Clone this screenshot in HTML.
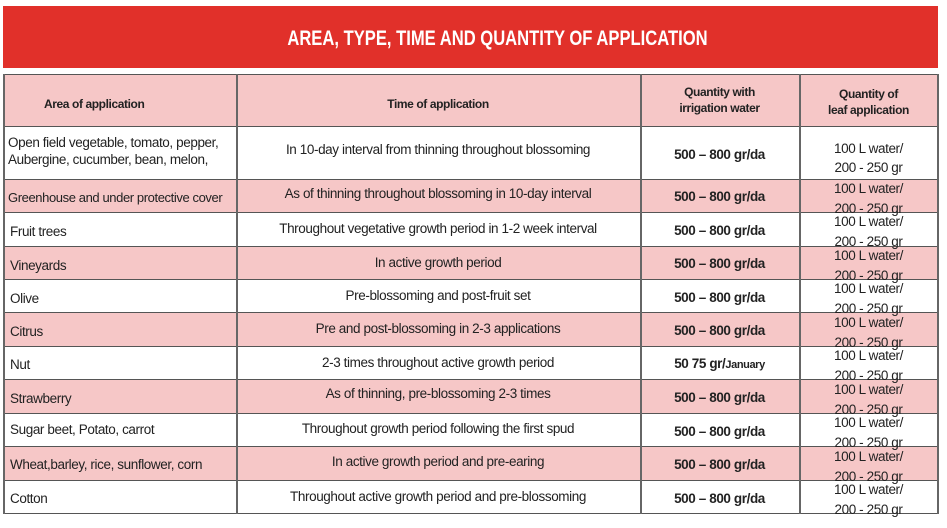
<!DOCTYPE html>
<html><head><meta charset="utf-8"><style>
*{margin:0;padding:0;box-sizing:border-box}
body{width:947px;height:528px;background:#fff;position:relative;overflow:hidden;font-family:"Liberation Sans",sans-serif;color:#222}
.banner{position:absolute;left:3px;top:6px;width:935px;height:62px;background:#e1302a}
.title{position:absolute;left:30px;top:27px;width:935px;text-align:center;color:#fff;font-weight:bold;font-size:21px;transform:scaleX(0.79);transform-origin:center;white-space:nowrap}
.row{position:absolute;left:3px;width:935px;border-bottom:1.5px solid #555}
.p{background:#f6c7c7}
.vl{position:absolute;top:74px;height:440px;width:1.5px;background:#666}
.t{position:absolute;white-space:nowrap;font-size:13.5px;letter-spacing:-0.4px}
.c{text-align:center}
.b{font-weight:bold}
</style></head><body>
<div class="banner"></div>
<div class="title">AREA, TYPE, TIME AND QUANTITY OF APPLICATION</div>
<div class="row p" style="top:74px;height:53px;border-top:1.5px solid #555"></div>
<div class="row" style="top:127px;height:53px"></div>
<div class="row p" style="top:180px;height:33px"></div>
<div class="row" style="top:213px;height:34px"></div>
<div class="row p" style="top:247px;height:33px"></div>
<div class="row" style="top:280px;height:33px"></div>
<div class="row p" style="top:313px;height:34px"></div>
<div class="row" style="top:347px;height:33px"></div>
<div class="row p" style="top:380px;height:34px"></div>
<div class="row" style="top:414px;height:33px"></div>
<div class="row p" style="top:447px;height:34px"></div>
<div class="row" style="top:481px;height:33px"></div>
<div class="vl" style="left:3px"></div>
<div class="vl" style="left:236px"></div>
<div class="vl" style="left:640px"></div>
<div class="vl" style="left:799px"></div>
<div class="vl" style="left:937px"></div>

<div class="t b" style="left:44px;top:97px;font-size:12px">Area of application</div>
<div class="t b c" style="left:236px;width:404px;top:97px;font-size:12px">Time of application</div>
<div class="t b c" style="left:640px;width:159px;top:84px;font-size:12px;line-height:16px">Quantity with<br>irrigation water</div>
<div class="t b c" style="left:799px;width:139px;top:86px;font-size:12px;line-height:16px">Quantity of<br>leaf application</div>

<div class="t" style="left:8px;top:134px;line-height:17px">Open field vegetable, tomato, pepper,<br>Aubergine, cucumber, bean, melon,</div>
<div class="t" style="left:8px;top:190px;font-size:13px">Greenhouse and under protective cover</div>
<div class="t" style="left:10px;top:224px">Fruit trees</div>
<div class="t" style="left:10px;top:258px">Vineyards</div>
<div class="t" style="left:10px;top:291px">Olive</div>
<div class="t" style="left:10px;top:324px">Citrus</div>
<div class="t" style="left:10px;top:357px">Nut</div>
<div class="t" style="left:10px;top:391px">Strawberry</div>
<div class="t" style="left:10px;top:422px">Sugar beet, Potato, carrot</div>
<div class="t" style="left:10px;top:457px">Wheat,barley, rice, sunflower, corn</div>
<div class="t" style="left:10px;top:491px">Cotton</div>

<div class="t c" style="left:236px;width:404px;top:142px">In 10-day interval from thinning throughout blossoming</div>
<div class="t c" style="left:236px;width:404px;top:186px">As of thinning throughout blossoming in 10-day interval</div>
<div class="t c" style="left:236px;width:404px;top:221px">Throughout vegetative growth period in 1-2 week interval</div>
<div class="t c" style="left:236px;width:404px;top:255px">In active growth period</div>
<div class="t c" style="left:236px;width:404px;top:288px">Pre-blossoming and post-fruit set</div>
<div class="t c" style="left:236px;width:404px;top:321px">Pre and post-blossoming in 2-3 applications</div>
<div class="t c" style="left:236px;width:404px;top:355px">2-3 times throughout active growth period</div>
<div class="t c" style="left:236px;width:404px;top:386px">As of thinning, pre-blossoming 2-3 times</div>
<div class="t c" style="left:236px;width:404px;top:421px">Throughout growth period following the first spud</div>
<div class="t c" style="left:236px;width:404px;top:454px">In active growth period and pre-earing</div>
<div class="t c" style="left:236px;width:404px;top:489px">Throughout active growth period and pre-blossoming</div>

<div class="t b c" style="left:640px;width:159px;top:147px">500 – 800 gr/da</div>
<div class="t b c" style="left:640px;width:159px;top:189px">500 – 800 gr/da</div>
<div class="t b c" style="left:640px;width:159px;top:223px">500 – 800 gr/da</div>
<div class="t b c" style="left:640px;width:159px;top:256px">500 – 800 gr/da</div>
<div class="t b c" style="left:640px;width:159px;top:290px">500 – 800 gr/da</div>
<div class="t b c" style="left:640px;width:159px;top:323px">500 – 800 gr/da</div>
<div class="t b c" style="left:640px;width:159px;top:356px">50 75 gr/<span style="font-size:11px">January</span></div>
<div class="t b c" style="left:640px;width:159px;top:390px">500 – 800 gr/da</div>
<div class="t b c" style="left:640px;width:159px;top:424px">500 – 800 gr/da</div>
<div class="t b c" style="left:640px;width:159px;top:457px">500 – 800 gr/da</div>
<div class="t b c" style="left:640px;width:159px;top:491px">500 – 800 gr/da</div>

<div class="t c" style="left:799px;width:139px;top:139px;line-height:19px">100 L water/<br>200 - 250 gr</div>
<div class="t c" style="left:799px;width:139px;top:179px;line-height:20px">100 L water/<br>200 - 250 gr</div>
<div class="t c" style="left:799px;width:139px;top:212px;line-height:20px">100 L water/<br>200 - 250 gr</div>
<div class="t c" style="left:799px;width:139px;top:246px;line-height:20px">100 L water/<br>200 - 250 gr</div>
<div class="t c" style="left:799px;width:139px;top:279px;line-height:20px">100 L water/<br>200 - 250 gr</div>
<div class="t c" style="left:799px;width:139px;top:313px;line-height:20px">100 L water/<br>200 - 250 gr</div>
<div class="t c" style="left:799px;width:139px;top:346px;line-height:20px">100 L water/<br>200 - 250 gr</div>
<div class="t c" style="left:799px;width:139px;top:380px;line-height:20px">100 L water/<br>200 - 250 gr</div>
<div class="t c" style="left:799px;width:139px;top:413px;line-height:20px">100 L water/<br>200 - 250 gr</div>
<div class="t c" style="left:799px;width:139px;top:447px;line-height:20px">100 L water/<br>200 - 250 gr</div>
<div class="t c" style="left:799px;width:139px;top:480px;line-height:20px">100 L water/<br>200 - 250 gr</div>
</body></html>
